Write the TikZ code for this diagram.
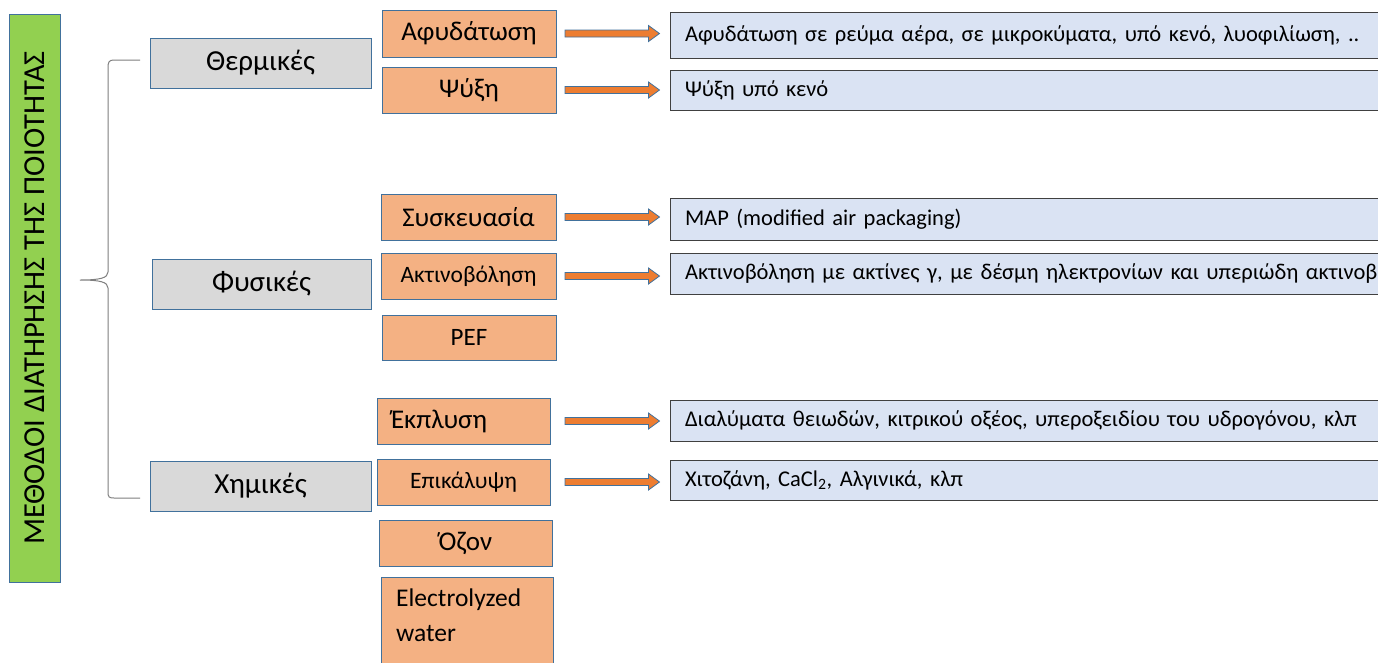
\documentclass[tikz,border=0pt]{standalone}
\usepackage{fontspec}
\setmainfont{Carlito}
\usetikzlibrary{calc}
\definecolor{greenbar}{HTML}{92D050}
\definecolor{bluebord}{HTML}{41719C}
\definecolor{catgray}{HTML}{D9D9D9}
\definecolor{orfill}{HTML}{F4B183}
\definecolor{arrfill}{HTML}{ED7D31}
\definecolor{rfill}{HTML}{DAE3F3}
\definecolor{rbord}{HTML}{404040}
\definecolor{bracec}{HTML}{7F7F7F}
\tikzset{
  catbox/.style={draw=bluebord, line width=1pt, fill=catgray, inner sep=0pt, minimum width=221pt, minimum height=50pt, font=\fontsize{29}{34}\selectfont},
  orbox/.style={draw=bluebord, line width=1pt, fill=orfill, inner sep=0pt, minimum width=174pt, minimum height=46pt, font=\fontsize{27}{32}\selectfont},
  smalltxt/.style={font=\fontsize{23.5}{28}\selectfont},
  rbox/.style={draw=rbord, line width=1pt, fill=rfill, inner ysep=0pt, inner xsep=15pt, text width=700pt, align=left, minimum height=41pt, font=\fontsize{22.5}{27}\selectfont},
  arrowsty/.style={draw=bluebord, line width=0.8pt, fill=arrfill},
}
\newcommand\blockarrow[2]{%
  \path let \p1=(#1.east), \p2=(#2.west) in
    [arrowsty] (565pt,\y1+3.5pt) -- (\x2-21pt,\y1+3.5pt) -- (\x2-21pt,\y1+8pt) -- (\x2-10pt,\y1) -- (\x2-21pt,\y1-8pt) -- (\x2-21pt,\y1-3.5pt) -- (565pt,\y1-3.5pt) -- cycle;}
\begin{document}
\begin{tikzpicture}[x=1pt,y=-1pt]
\clip (0,0) rectangle (1378,662);
\useasboundingbox (0,0) rectangle (1378,662);
\fill[white] (0,0) rectangle (1378,662);
% title bar
\node[draw=bluebord, line width=1pt, fill=greenbar, rotate=90, minimum width=568pt, minimum height=51pt, inner sep=0pt, font=\fontsize{30.5}{34}\selectfont] (title) at (34.5,298) {ΜΕΘΟΔΟΙ ΔΙΑΤΗΡΗΣΗΣ ΤΗΣ ΠΟΙΟΤΗΤΑΣ};
% categories
\node[catbox] (therm) at (260.5,63) {Θερμικές};
\node[catbox, minimum width=219pt] (fys) at (261.5,284) {Φυσικές};
\node[catbox] (chem) at (260.5,486) {Χημικές};
% brace
\coordinate (bt) at (140,60);
\coordinate (bm) at (80,280);
\coordinate (bb) at (140,498);
\draw[bracec, line width=1pt] (bt) -- (114,60) .. controls (109,60) and (108,62) .. (108,68)
  -- (108,272) .. controls (108,278) and (100,280) .. (bm)
  .. controls (100,280) and (108,282) .. (108,288)
  -- (108,492) .. controls (108,497) and (109,498) .. (114,498) -- (bb);
% method boxes
\node[orbox, minimum height=47pt] (afyd) at (469,33.5) {Αφυδάτωση};
\node[orbox] (psyxi) at (469,90) {Ψύξη};
\node[orbox, minimum width=175pt] (sysk) at (468.5,217) {Συσκευασία};
\node[orbox, minimum width=175pt, smalltxt] (aktin) at (468.5,276) {Ακτινοβόληση};
\node[orbox, minimum height=45pt, font=\fontsize{25}{30}\selectfont] (pef) at (469,337.5) {PEF};
\node[orbox, minimum width=173pt, inner xsep=14pt, text width=145pt, align=left] (ekpl) at (463.5,421) {Έκπλυση};
\node[orbox, minimum width=173pt, smalltxt] (epik) at (463.5,482) {Επικάλυψη};
\node[orbox, minimum width=173pt] (ozon) at (465.5,543) {Όζον};
\node[orbox, minimum width=172pt, minimum height=103pt, anchor=north] (elwat) at (467,577) {};
\node[anchor=north west, align=left, inner sep=0pt, font=\fontsize{25.5}{35}\selectfont] (elwtxt) at (396,589) {Electrolyzed\\water};
% result boxes
\node[rbox, minimum height=46pt] (r1) at (1035,35) {Αφυδάτωση σε ρεύμα αέρα, σε μικροκύματα, υπό κενό, λυοφιλίωση, ..};
\node[rbox, minimum height=40pt] (r2) at (1035,90) {Ψύξη υπό κενό};
\node[rbox, minimum height=42pt] (r3) at (1035,219) {MAP (modified air packaging)};
\node[rbox] (r4) at (1035,273.5) {\mbox{Ακτινοβόληση με ακτίνες γ, με δέσμη ηλεκτρονίων και υπεριώδη ακτινοβολία}};
\node[rbox] (r5) at (1035,420.5) {Διαλύματα θειωδών, κιτρικού οξέος, υπεροξειδίου του υδρογόνου, κλπ};
\node[rbox, minimum height=40pt] (r6) at (1035,480) {Χιτοζάνη, CaCl\textsubscript{2}, Αλγινικά, κλπ};
% arrows
\blockarrow{afyd}{r1}
\blockarrow{psyxi}{r2}
\blockarrow{sysk}{r3}
\blockarrow{aktin}{r4}
\blockarrow{ekpl}{r5}
\blockarrow{epik}{r6}
\end{tikzpicture}
\end{document}
